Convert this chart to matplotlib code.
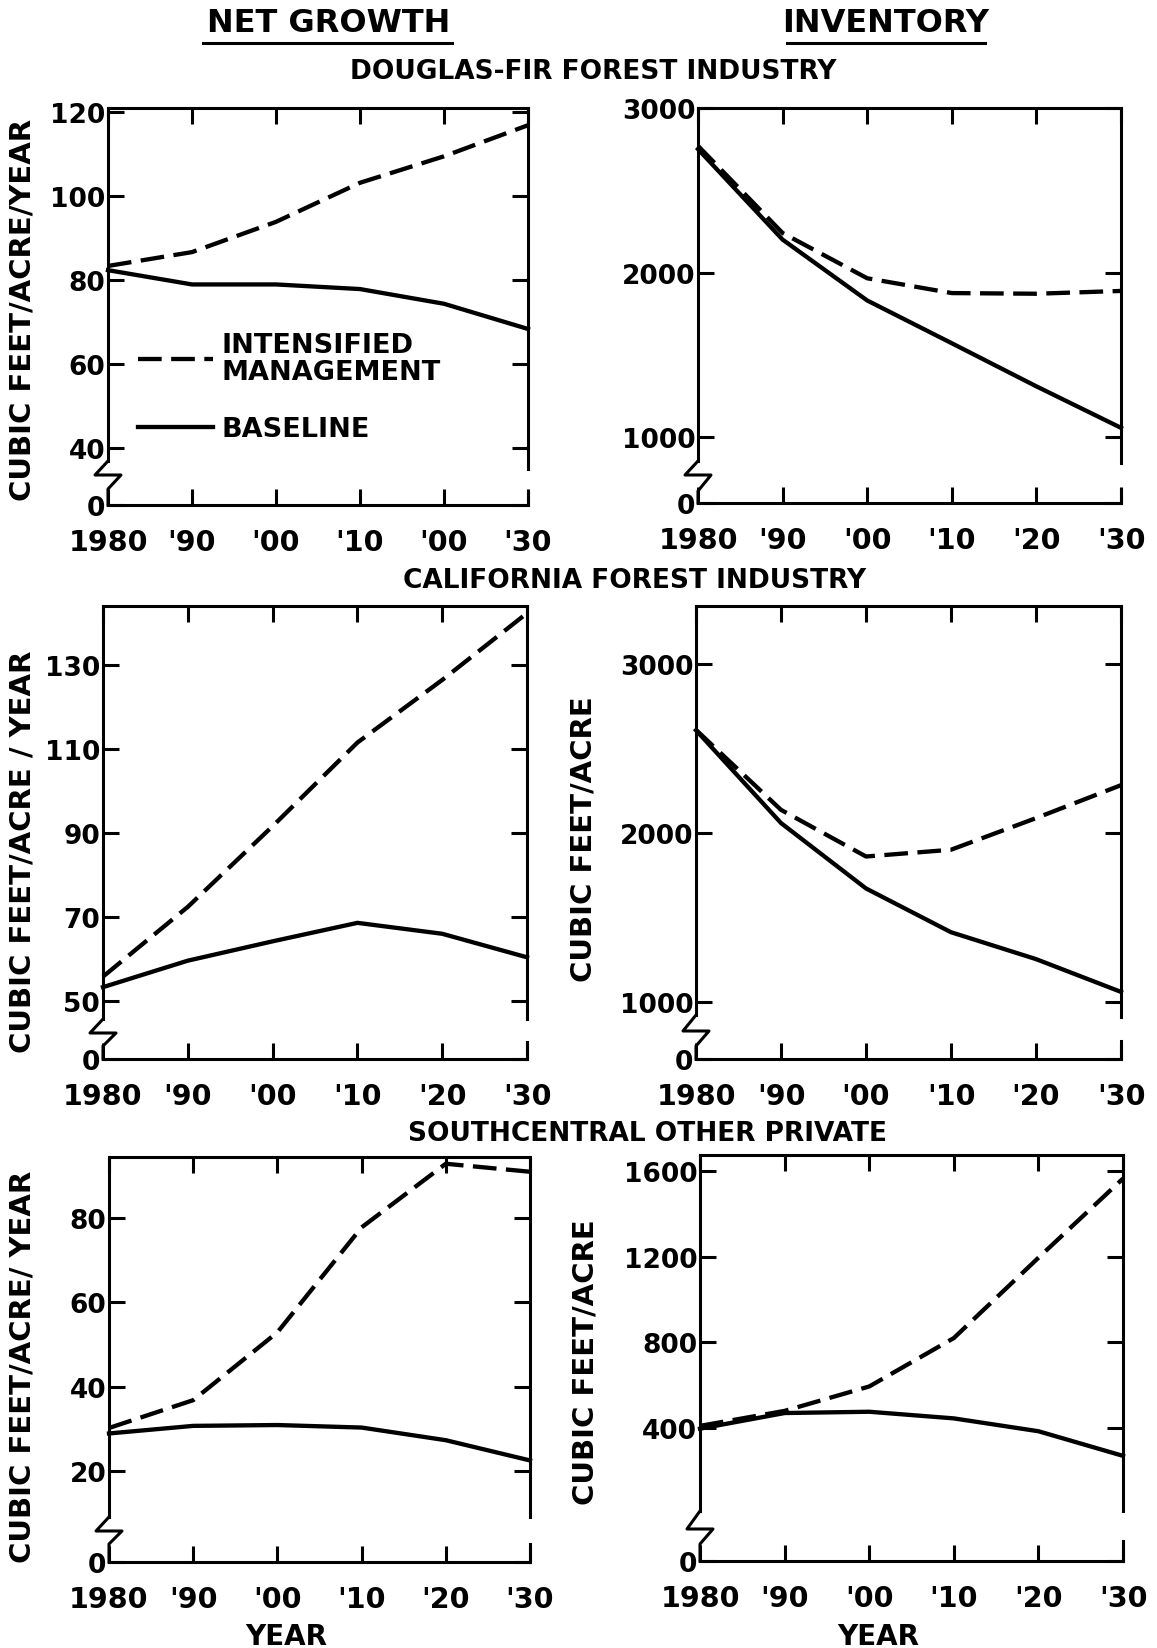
import matplotlib

matplotlib.use("Agg")
import matplotlib.pyplot as plt
from matplotlib.lines import Line2D

plt.rcParams["font.family"] = ["DejaVu Sans"]
plt.rcParams["font.weight"] = "bold"

W, H = 1157, 1649

years = [1980, 1990, 2000, 2010, 2020, 2030]
xlabels_top = ["1980", "'90", "'00", "'10", "'00", "'30"]
xlabels = ["1980", "'90", "'00", "'10", "'20", "'30"]

# Douglas-fir forest industry
dfir_growth_intensified = [83.4, 86.7, 93.9, 103.2, 109.5, 116.9]
dfir_growth_baseline = [82.4, 79.0, 79.0, 77.9, 74.4, 68.4]
dfir_inv_intensified = [2770, 2240, 1965, 1875, 1871, 1888]
dfir_inv_baseline = [2750, 2200, 1830, 1570, 1308, 1056]

# California forest industry
cal_growth_intensified = [55.8, 72.4, 91.6, 111.5, 126.4, 142.3]
cal_growth_baseline = [53.3, 59.6, 64.2, 68.6, 66.0, 60.4]
cal_inv_intensified = [2610, 2137, 1861, 1901, 2088, 2283]
cal_inv_baseline = [2608, 2059, 1672, 1413, 1254, 1060]

# Southcentral other private
sc_growth_intensified = [30.2, 36.8, 52.9, 77.8, 92.9, 91.0]
sc_growth_baseline = [28.9, 30.7, 30.9, 30.3, 27.3, 22.5]
sc_inv_intensified = [410, 480, 594, 820, 1195, 1565]
sc_inv_baseline = [397, 470, 476, 445, 385, 270]

LW_DATA = 3.1
LW_FRAME = 2.2

fig = plt.figure(figsize=(W / 100, H / 100), dpi=100)


def fig_xy(x, y):
    return x / W, 1 - y / H


def draw_panel(box, intensified, baseline, yticks, ytop, yfloor, tick_labels, brk):
    left, top, right, bottom = box
    wpx, hpx = right - left, bottom - top
    ax = fig.add_axes([left / W, 1 - bottom / H, wpx / W, hpx / H])
    ax.plot(years, intensified, color="k", lw=LW_DATA, dashes=(5.5, 2.2),
            clip_on=False, label="INTENSIFIED\nMANAGEMENT")
    ax.plot(years, baseline, color="k", lw=LW_DATA, clip_on=False,
            solid_joinstyle="round", label="BASELINE")
    ax.set_xlim(1980, 2030)
    ax.set_ylim(yfloor, ytop)
    ax.set_xticks(years, tick_labels)
    ax.set_yticks(list(yticks) + [yfloor], [str(v) for v in yticks] + ["0"])
    ax.tick_params(direction="in", top=True, right=True, length=11.5,
                   width=LW_FRAME, color="k")
    ax.tick_params(axis="x", labelsize=20.5, pad=16.5)
    ax.tick_params(axis="y", labelsize=19, pad=2)
    for sp in ax.spines.values():
        sp.set_linewidth(LW_FRAME)

    # axis break: zigzag on the left, gap on the right
    end, mid, rejoin, rtop, rbot = brk
    span = ytop - yfloor
    ax.spines["left"].set_bounds(yfloor + span * end / hpx, ytop)
    ax.spines["right"].set_bounds(yfloor + span * rtop / hpx, ytop)
    dx = 13 / wpx
    ax.plot([0, -dx, dx, 0, 0], [end / hpx, mid / hpx, mid / hpx, rejoin / hpx, 0],
            transform=ax.transAxes, color="k", lw=LW_FRAME, clip_on=False)
    ax.plot([1, 1], [0, rbot / hpx], transform=ax.transAxes, color="k",
            lw=LW_FRAME, clip_on=False, solid_capstyle="projecting")
    return ax


ax1 = draw_panel((108, 109, 528, 506), dfir_growth_intensified, dfir_growth_baseline,
                 [40, 60, 80, 100, 120], 121, 26.5, xlabels_top, (44, 30, 16, 36, 14))
ax2 = draw_panel((698, 109, 1121, 504), dfir_inv_intensified, dfir_inv_baseline,
                 [1000, 2000, 3000], 3000, 599, xlabels, (42, 28, 12, 40, 14))
ax3 = draw_panel((103, 607, 527, 1060), cal_growth_intensified, cal_growth_baseline,
                 [50, 70, 90, 110, 130], 144.0, 36.2, xlabels, (40, 26, 13, 40, 17))
ax4 = draw_panel((696, 607, 1121, 1060), cal_inv_intensified, cal_inv_baseline,
                 [1000, 2000, 3000], 3343, 663, xlabels, (44, 28, 13, 42, 18))
ax5 = draw_panel((109, 1158, 530, 1563), sc_growth_intensified, sc_growth_baseline,
                 [20, 40, 60, 80], 94.5, -1.6, xlabels, (45, 31, 18, 45, 18))
ax6 = draw_panel((700, 1156, 1123, 1562), sc_inv_intensified, sc_inv_baseline,
                 [400, 800, 1200, 1600], 1675, -221, xlabels, (50, 32, 17, 50, 20))

leg = ax1.legend(loc="upper left", bbox_to_anchor=(0.072, 0.437), frameon=False,
                 borderpad=0, borderaxespad=0, handlelength=2.75, handletextpad=0.32,
                 labelspacing=1.18, prop={"size": 19.5, "weight": "bold"})
for t in leg.get_texts():
    t.set_linespacing(1.05)

# column headings with underlines
for label, cx, x0, x1 in [("NET GROWTH", 329, 203, 452), ("INVENTORY", 886, 787, 985)]:
    fig.text(*fig_xy(cx, 23), label, ha="center", va="center", fontsize=23)
    fig.add_artist(Line2D([x0 / W, x1 / W], [1 - 44 / H] * 2, color="k", lw=LW_FRAME))

for label, cx, cy in [("DOUGLAS-FIR FOREST INDUSTRY", 593, 72),
                      ("CALIFORNIA FOREST INDUSTRY", 635, 581),
                      ("SOUTHCENTRAL OTHER PRIVATE", 647, 1134)]:
    fig.text(*fig_xy(cx, cy), label, ha="center", va="center", fontsize=19)

for label, cx, cy in [("CUBIC FEET/ACRE/YEAR", 23, 310),
                      ("CUBIC FEET/ACRE / YEAR", 23, 852),
                      ("CUBIC FEET/ACRE", 584, 839),
                      ("CUBIC FEET/ACRE/ YEAR", 23, 1367),
                      ("CUBIC FEET/ACRE", 585, 1362)]:
    fig.text(*fig_xy(cx, cy), label, ha="center", va="center", rotation=90, fontsize=21)

for cx in (286, 878):
    fig.text(*fig_xy(cx, 1637), "YEAR", ha="center", va="center", fontsize=20)

fig.savefig("out.png", dpi=100)
